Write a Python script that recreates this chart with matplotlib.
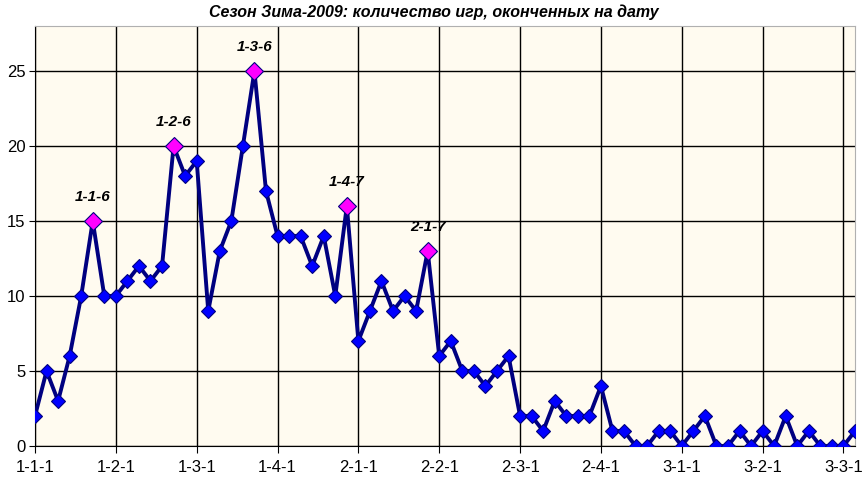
import matplotlib

matplotlib.use("Agg")
import matplotlib.pyplot as plt
import numpy as np

plt.rcParams["font.family"] = ["Liberation Sans", "DejaVu Sans"]

# day labels: month-week-day
months = [1, 2, 3]
weeks = [1, 2, 3, 4]
days = [1, 2, 3, 4, 5, 6, 7]

games = [
    2, 5, 3, 6, 10, 15, 10,
    10, 11, 12, 11, 12, 20, 18,
    19, 9, 13, 15, 20, 25, 17,
    14, 14, 14, 12, 14, 10, 16,
    7, 9, 11, 9, 10, 9, 13,
    6, 7, 5, 5, 4, 5, 6,
    2, 2, 1, 3, 2, 2, 2,
    4, 1, 1, 0, 0, 1, 1,
    0, 1, 2, 0, 0, 1, 0,
    1, 0, 2, 0, 1, 0, 0,
    0, 1,
]

peak_labels = ["1-1-6", "1-2-6", "1-3-6", "1-4-7", "2-1-7"]

labels = [f"{m}-{w}-{d}" for m in months for w in weeks for d in days][: len(games)]
x = np.arange(len(games))
peak_idx = [labels.index(p) for p in peak_labels]

fig = plt.figure(figsize=(8.68, 4.87), dpi=100)
ax = fig.add_axes([35 / 868, 41 / 487, 820 / 868, 420 / 487])
ax.set_facecolor("#FFFBF0")

ax.plot(x, games, color="#000080", linewidth=2.8, zorder=3)
ax.plot(x, games, linestyle="none", marker="D", markersize=7,
        markerfacecolor="#0000FF", markeredgecolor="#000080", markeredgewidth=0.8, zorder=4)
ax.plot(x[peak_idx], [games[i] for i in peak_idx], linestyle="none", marker="D", markersize=9,
        markerfacecolor="#FF00FF", markeredgecolor="#000080", markeredgewidth=0.8, zorder=5)

for i in peak_idx:
    ax.annotate(labels[i], (x[i], games[i]), xytext=(0, 12), textcoords="offset points",
                ha="center", va="bottom", fontsize=11, fontweight="bold", fontstyle="italic",
                color="black", zorder=6)

tick_pos = [i for i, lab in enumerate(labels) if lab.endswith("-1")]
ax.set_xticks(tick_pos)
ax.set_xticklabels([labels[i] for i in tick_pos], fontsize=12)
ax.set_yticks([0, 5, 10, 15, 20, 25])
ax.tick_params(axis="y", labelsize=12, length=4, direction="out", pad=3)
ax.tick_params(axis="x", length=5, direction="out", pad=5)
ax.set_xlim(0, len(games) - 1)
ax.set_ylim(0, 28)

ax.grid(True, color="black", linewidth=1.0, zorder=1)
ax.set_axisbelow(True)
for side in ["top", "right"]:
    ax.spines[side].set_color("#B0B0B0")
for side in ["left", "bottom"]:
    ax.spines[side].set_color("black")

fig.suptitle("Сезон Зима-2009: количество игр, оконченных на дату", x=0.5, y=0.99,
             va="top", fontsize=11.5, fontweight="bold", fontstyle="italic")

fig.savefig("out.png", dpi=100)
